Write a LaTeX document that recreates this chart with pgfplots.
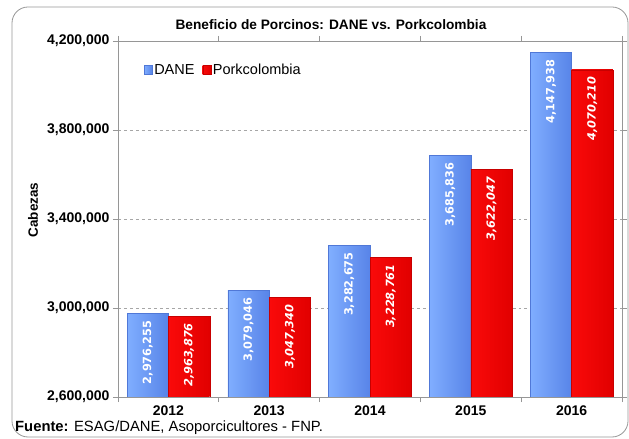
\documentclass[border=0pt]{standalone}
\usepackage{fontspec}
\setmainfont{Liberation Sans}
\newfontfamily\verd{DejaVu Sans}
\usepackage{pgfplots}
\pgfplotsset{compat=1.18}
\definecolor{daneMid}{RGB}{112,160,252}
\definecolor{daneL}{RGB}{128,174,255}
\definecolor{daneR}{RGB}{88,132,232}
\definecolor{daneEdge}{RGB}{80,120,215}
\definecolor{porkMid}{RGB}{255,0,0}
\definecolor{porkL}{RGB}{250,10,10}
\definecolor{porkR}{RGB}{225,0,0}
\definecolor{porkEdge}{RGB}{200,0,0}
\definecolor{frameGray}{RGB}{150,150,150}

\newcommand{\fs}[1]{\fontsize{#1}{#1}\selectfont}

\pgfplotsset{
  dane/.style={bar shift=-0.205, draw=daneEdge, left color=daneL, middle color=daneMid, right color=daneR,
    nodes near coords style={rotate=90, anchor=east, text=white, inner sep=7bp, font=\verd\bfseries\fs{11.3bp}}},
  pork/.style={bar shift=0.205, draw=porkEdge, left color=porkL, middle color=porkMid, right color=porkR,
    nodes near coords style={rotate=90, anchor=east, text=white, inner sep=7bp, font=\verd\bfseries\itshape\fs{11.3bp}}},
}

\begin{document}
\begin{tikzpicture}
\path (0,0) rectangle (629bp,439bp);
\draw[frameGray, line width=0.8bp, rounded corners=16bp] (12bp,2bp) rectangle (628bp,432bp);
\node[font=\bfseries\fs{13.7bp}] at (331bp,414bp) {Beneficio de Porcinos: DANE vs. Porkcolombia};
\node[font=\bfseries\fs{13.5bp}, rotate=90] at (33bp,229bp) {Cabezas};
\node[anchor=west, font=\fs{14.8bp}, inner sep=0pt] at (15bp,11bp) {\textbf{Fuente:} ESAG/DANE, Asoporcicultores - FNP.};
\begin{axis}[
  at={(118bp,42bp)}, anchor=south west,
  scale only axis,
  width=504bp, height=356bp,
  ymin=2600000, ymax=4200000,
  ytick={2600000,3000000,3400000,3800000,4200000},
  scaled y ticks=false,
  yticklabel style={/pgf/number format/.cd, fixed, 1000 sep={,}, assume math mode=true},
  xmin=-0.5, xmax=4.5,
  xtick={0,1,2,3,4},
  xticklabels={2012,2013,2014,2015,2016},
  minor xtick={-0.5,0.5,1.5,2.5,3.5,4.5},
  major x tick style={draw=none},
  tick align=outside,
  major tick length=5bp,
  minor tick length=5bp,
  tick style={frameGray, line width=0.8bp},
  axis line style={frameGray, line width=0.8bp},
  ymajorgrids,
  grid style={dashed, gray!70, line width=0.5bp},
  tick label style={font=\bfseries\fs{14bp}},
  ybar,
  bar width=0.41,
  legend style={at={(0.045,0.918)}, anchor=west, draw=none, fill=none,
                font=\fs{14.5bp}, legend columns=2,
                /tikz/every even column/.append style={column sep=6bp}},
  legend image code/.code={\path[#1] (0bp,-4.5bp) rectangle (8bp,4.5bp);},
  nodes near coords,
  point meta=explicit symbolic,
]
% DANE
\addplot[dane] coordinates {(0,2976255) [2,976,255]};
\addplot[pork] coordinates {(0,2963876) [2,963,876]};
\addplot[dane, forget plot] coordinates {(1,3079046) [3,079,046]};
\addplot[dane, forget plot] coordinates {(2,3282675) [3,282,675]};
\addplot[dane, forget plot] coordinates {(3,3685836) [3,685,836]};
\addplot[dane, forget plot] coordinates {(4,4147938) [4,147,938]};
% Porkcolombia
\addplot[pork, forget plot] coordinates {(1,3047340) [3,047,340]};
\addplot[pork, forget plot] coordinates {(2,3228761) [3,228,761]};
\addplot[pork, forget plot] coordinates {(3,3622047) [3,622,047]};
\addplot[pork, forget plot] coordinates {(4,4070210) [4,070,210]};
\legend{DANE,Porkcolombia}
\end{axis}
\end{tikzpicture}
\end{document}
